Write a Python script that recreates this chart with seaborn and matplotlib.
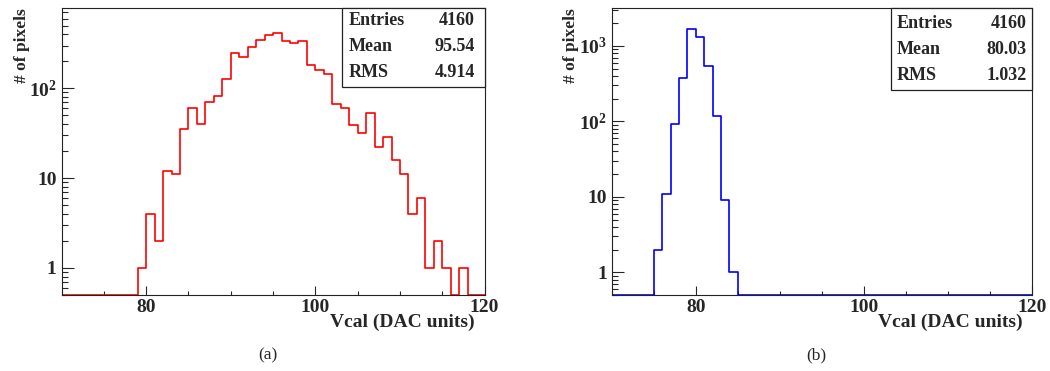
import numpy as np
import pandas as pd
import matplotlib
matplotlib.use("Agg")
import matplotlib.pyplot as plt
import seaborn as sns
from matplotlib.ticker import MultipleLocator, FixedLocator, FixedFormatter, LogLocator, NullFormatter
from matplotlib.patches import Rectangle

# bins of 1 DAC unit, lower edges 70..119
bin_low = list(range(70, 120))

# (a) counts per bin
counts_a = [0, 0, 0, 0, 0, 0, 0, 0, 0,
            1, 4, 2, 12, 11, 35, 60, 40, 71, 82,
            128, 246, 224, 289, 346, 397, 414, 334, 320, 340,
            182, 159, 144, 67, 60, 39, 32, 53, 22, 29,
            16, 11, 4, 6, 1, 2, 1, 0, 1, 0, 0]

# (b) counts per bin
counts_b = [0, 0, 0, 0, 0,
            2, 11, 93, 375, 1671, 1322, 535, 119, 9, 1,
            0, 0, 0, 0, 0, 0, 0, 0, 0, 0, 0, 0, 0, 0, 0,
            0, 0, 0, 0, 0, 0, 0, 0, 0, 0, 0, 0, 0, 0, 0,
            0, 0, 0, 0, 0]

stat_names = ["Entries", "Mean", "RMS"]
stats_a = ["4160", "95.54", "4.914"]
stats_b = ["4160", "80.03", "1.032"]

y_ticks = [1, 10, 100, 1000]
y_ticklabels = ["1", "10", r"$\mathbf{10^{2}}$", r"$\mathbf{10^{3}}$"]

sns.set_style("ticks")
plt.rcParams["font.family"] = ["Liberation Serif", "DejaVu Serif"]
plt.rcParams["font.weight"] = "bold"
plt.rcParams["axes.labelweight"] = "bold"
plt.rcParams["mathtext.fontset"] = "custom"
plt.rcParams["mathtext.bf"] = "Liberation Serif:bold"
plt.rcParams["mathtext.rm"] = "Liberation Serif:bold"

fig = plt.figure(figsize=(10.5, 3.71), dpi=100)

panels = [
    dict(rect=[0.0586, 0.2049, 0.4029, 0.7728], counts=counts_a, color="#ff0000", ymax=780,
         stats=stats_a, box=(0.6624, 0.7245), rows=[0.9568, 0.8661, 0.7754], tx=(0.6797, 0.9775),
         ylab_x=-0.074, cap="(a)", cap_x=268),
    dict(rect=[0.5826, 0.2049, 0.4003, 0.7728], counts=counts_b, color="#0000ff", ymax=3160,
         stats=stats_b, box=(0.6638, 0.715), rows=[0.9477, 0.857, 0.7639], tx=(0.6781, 0.9874),
         ylab_x=-0.078, cap="(b)", cap_x=816),
]

edges = list(range(70, 121))
ymin = 0.5

for p in panels:
    ax = fig.add_axes(p["rect"])
    # empty bins drawn on the lower edge of the log axis, like ROOT does
    df = pd.DataFrame({"vcal": np.array(bin_low) + 0.5,
                       "n": np.maximum(np.array(p["counts"], dtype=float), ymin)})
    sns.histplot(data=df, x="vcal", weights="n", bins=edges, element="step", fill=False,
                 color=p["color"], linewidth=1.2, ax=ax)
    ax.set_yscale("log")
    ax.set_xlim(70, 120)
    ax.set_ylim(ymin, p["ymax"])

    ax.xaxis.set_major_locator(MultipleLocator(20))
    ax.xaxis.set_minor_locator(MultipleLocator(5))
    ax.yaxis.set_major_locator(FixedLocator([t for t in y_ticks if t < p["ymax"]]))
    ax.yaxis.set_major_formatter(FixedFormatter([l for t, l in zip(y_ticks, y_ticklabels) if t < p["ymax"]]))
    ax.yaxis.set_minor_locator(LogLocator(subs=np.arange(2, 10)))
    ax.yaxis.set_minor_formatter(NullFormatter())

    ax.tick_params(axis="x", which="major", direction="in", length=6.5, width=0.8, pad=3, labelsize=14)
    ax.tick_params(axis="x", which="minor", direction="in", length=3, width=0.8)
    ax.tick_params(axis="y", which="major", direction="in", length=8.5, width=0.8, pad=3.5, labelsize=14)
    ax.tick_params(axis="y", which="minor", direction="in", length=4.3, width=0.8)
    for lab in ax.get_xticklabels() + ax.get_yticklabels():
        lab.set_fontweight("bold")
    for s in ax.spines.values():
        s.set_color("#222222")
        s.set_linewidth(0.8)

    ax.set_xlabel("Vcal (DAC units)", fontsize=14, fontweight="bold", ha="right")
    ax.xaxis.set_label_coords(0.9775, -0.066)
    ax.set_ylabel("# of pixels", fontsize=12.5, fontweight="bold", loc="top")
    ax.yaxis.set_label_coords(p["ylab_x"], 1.0)

    # stat box
    bx, by = p["box"]
    ax.add_patch(Rectangle((bx, by), 1 - bx, 1 - by, transform=ax.transAxes,
                           facecolor="white", edgecolor="#222222", linewidth=0.9,
                           zorder=5, clip_on=False))
    for name, val, ry in zip(stat_names, p["stats"], p["rows"]):
        ax.text(p["tx"][0], ry, name, transform=ax.transAxes, ha="left", va="center",
                fontsize=13, fontweight="bold", zorder=6)
        ax.text(p["tx"][1], ry, val, transform=ax.transAxes, ha="right", va="center",
                fontsize=13, fontweight="bold", zorder=6)

    fig.text(p["cap_x"] / 1050, 1 - 355.5 / 371, p["cap"], ha="center", va="center",
             fontsize=12.5, fontweight="normal")

fig.savefig("out.png", dpi=100)
